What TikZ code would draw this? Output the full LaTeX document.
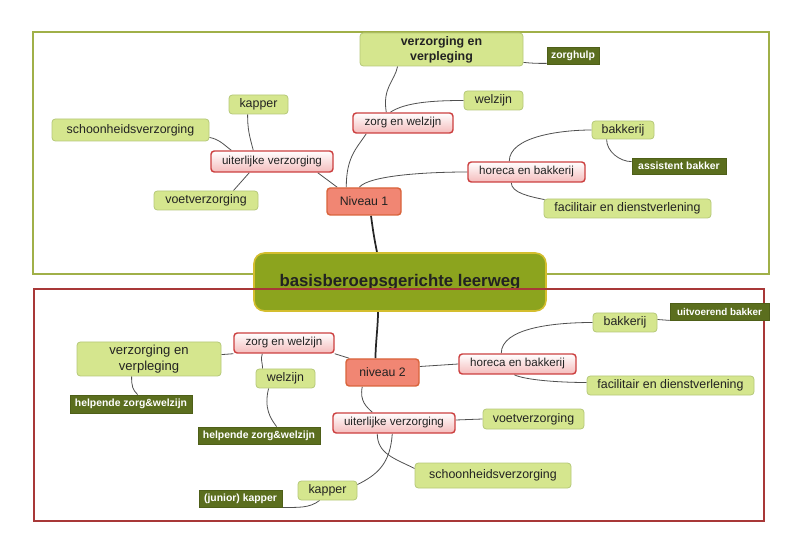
\documentclass[tikz,border=0pt]{standalone}
\usepackage{fontspec}
\setmainfont{Liberation Sans}
\usetikzlibrary{calc}
\pgfdeclarelayer{background}
\pgfsetlayers{background,main}
\definecolor{txt}{HTML}{222222}
\definecolor{lgfill}{HTML}{D5E68E}
\definecolor{lgdraw}{HTML}{B6C97A}
\definecolor{dgfill}{HTML}{5B6E1E}
\definecolor{dgdraw}{HTML}{4E5F18}
\definecolor{pkfill}{HTML}{F5BCBC}
\definecolor{pkdraw}{HTML}{CC4040}
\definecolor{nvfill}{HTML}{F18673}
\definecolor{nvdraw}{HTML}{D9643C}
\definecolor{cfill}{HTML}{8CA41E}
\definecolor{cdraw}{HTML}{D4BE2E}
\definecolor{gframe}{HTML}{A0B048}
\definecolor{rframe}{HTML}{A83838}
\definecolor{cncol}{HTML}{505050}
\begin{document}
\begin{tikzpicture}[x=0.75pt,y=-0.75pt,
 box/.style={rounded corners=2.5pt, inner sep=0pt, align=center, text=txt},
 bw/.style={minimum width=#1*0.75pt},
 bh/.style={minimum height=#1*0.75pt},
 lg/.style={box, fill=lgfill, draw=lgdraw, line width=0.6pt, font=\fontsize{9.3}{10.8}\selectfont},
 dg/.style={inner sep=0pt, fill=dgfill, draw=dgdraw, line width=0.6pt, text=white, font=\bfseries\fontsize{7.8}{9}\selectfont},
 pk/.style={box, top color=white, bottom color=pkfill, draw=pkdraw, line width=1.1pt, font=\fontsize{8.7}{9.5}\selectfont},
 nv/.style={box, fill=nvfill, draw=nvdraw, line width=1.1pt, font=\fontsize{9.2}{10}\selectfont},
 conn/.style={draw=cncol, line width=0.6pt},
 mainlink/.style={draw=black!85, line width=1.3pt},
]
\useasboundingbox (0,0) rectangle (800,552);
\begin{pgfonlayer}{background}
\fill[white] (0,0) rectangle (800,552);
\draw[gframe, line width=1.2pt] (33,32) rectangle (769,274);
\end{pgfonlayer}

% center
\node[box, rounded corners=8pt, fill=cfill, draw=cdraw, line width=1.2pt, bw=292, bh=58, font=\bfseries\fontsize{12.6}{14}\selectfont] (center) at (400,282) {basisberoepsgerichte leerweg};
\draw[rframe, line width=1.2pt] (34,289) rectangle (764,521);

% upper
\node[nv, bw=74, bh=27] (niv1) at (364,201.5) {Niveau 1};
\node[pk, bw=100, bh=20] (zw1) at (403,123) {zorg en welzijn};
\node[pk, bw=122, bh=21] (uv1) at (272,161.5) {uiterlijke verzorging};
\node[pk, bw=117, bh=20] (hb1) at (526.5,172) {horeca en bakkerij};
\node[lg, bw=163, bh=33, font=\bfseries\fontsize{9.3}{11}\selectfont] (vev1) at (441.5,49.5) {verzorging en\\verpleging};
\node[lg, bw=59, bh=19] (wz1) at (493.5,100.5) {welzijn};
\node[lg, bw=59, bh=19] (kap1) at (258.5,104.5) {kapper};
\node[lg, bw=157, bh=22] (sch1) at (130.5,130) {schoonheidsverzorging};
\node[lg, bw=104, bh=19] (voet1) at (206,200.5) {voetverzorging};
\node[lg, bw=62, bh=18] (bak1) at (623,130) {bakkerij};
\node[lg, bw=167, bh=19] (fac1) at (627.5,208.5) {facilitair en dienstverlening};
\node[dg, bw=52, bh=17] (zh) at (573,55.5) {zorghulp};
\node[dg, bw=94, bh=16] (ab) at (679,166) {assistent bakker};

% lower
\node[nv, bw=73, bh=27] (niv2) at (382.5,372.5) {niveau 2};
\node[pk, bw=100, bh=20] (zw2) at (284,343) {zorg en welzijn};
\node[pk, bw=117, bh=20] (hb2) at (517.5,364) {horeca en bakkerij};
\node[pk, bw=122, bh=20] (uv2) at (394,423) {uiterlijke verzorging};
\node[lg, bw=144, bh=34, font=\fontsize{9.8}{11.8}\selectfont] (vev2) at (149,359) {verzorging en\\verpleging};
\node[lg, bw=59, bh=19] (wz2) at (285.5,378.5) {welzijn};
\node[lg, bw=64, bh=19] (bak2) at (625,322.5) {bakkerij};
\node[lg, bw=167, bh=19] (fac2) at (670.5,385.5) {facilitair en dienstverlening};
\node[lg, bw=101, bh=20] (voet2) at (533.5,419) {voetverzorging};
\node[lg, bw=156, bh=25] (sch2) at (493,475.5) {schoonheidsverzorging};
\node[lg, bw=59, bh=19] (kap2) at (327.5,490.5) {kapper};
\node[dg, bw=99, bh=17, font=\bfseries\fontsize{7.4}{9}\selectfont] (ub) at (719.5,311.5) {uitvoerend bakker};
\node[dg, bw=122, bh=18] (hz1) at (131,404) {helpende zorg\&welzijn};
\node[dg, bw=122, bh=17] (hz2) at (259,435.5) {helpende zorg\&welzijn};
\node[dg, bw=83, bh=17] (jk) at (240.5,498.5) {(junior) kapper};

\begin{pgfonlayer}{background}
% main links
\draw[mainlink] ($(niv1.south)+(7,0)$) .. controls +(2,15) and +(-3,-15) .. ($(center.north)+(-23,0)$);
\draw[mainlink] ($(center.south)+(-22,0)$) .. controls +(0,15) and +(0,-15) .. ($(niv2.north)+(-7,0)$);
% upper links
\draw[conn] ($(niv1.north west)+(20,0)$) .. controls +(0,-30) and +(-10,15) .. ($(zw1.south west)+(14,0)$);
\draw[conn] ($(zw1.north west)+(34,0)$) .. controls +(-4,-25) and +(-3,15) .. ($(vev1.south west)+(38,0)$);
\draw[conn] ($(zw1.north west)+(38,0)$) .. controls +(15,-10) and +(-30,0) .. (wz1.west);
\draw[conn] ($(vev1.south east)+(0,-4)$) .. controls +(10,1) and +(-10,0) .. ($(zh.south west)+(0,-1)$);
\draw[conn] ($(niv1.north west)+(11,0)$) -- ($(uv1.south east)+(-16,0)$);
\draw[conn] ($(uv1.north west)+(43,0)$) .. controls +(-4,-15) and +(0,15) .. ($(kap1.south west)+(19,0)$);
\draw[conn] ($(sch1.south east)+(0,-4)$) .. controls +(10,2) and +(-8,-6) .. ($(uv1.north west)+(21,0)$);
\draw[conn] ($(uv1.south west)+(39,0)$) -- ($(voet1.north east)+(-25,0)$);
\draw[conn] ($(niv1.north west)+(33,0)$) .. controls +(10,-12) and +(-40,0) .. (hb1.west);
\draw[conn] ($(hb1.north west)+(42,0)$) .. controls +(0,-25) and +(-30,0) .. (bak1.west);
\draw[conn] ($(bak1.south west)+(15,0)$) .. controls +(0,12) and +(-12,0) .. ($(ab.north west)+(0,4)$);
\draw[conn] ($(hb1.south west)+(44,0)$) .. controls +(0,10) and +(-15,-3) .. ($(fac1.north west)+(1,1)$);
% lower links
\draw[conn] ($(niv2.north west)+(4,0)$) -- (zw2.south east);
\draw[conn] ($(vev2.north east)+(0,13)$) -- (zw2.south west);
\draw[conn] ($(zw2.south west)+(29,0)$) .. controls +(-2,6) and +(0,-6) .. ($(wz2.north west)+(7,0)$);
\draw[conn] ($(vev2.south west)+(55,0)$) .. controls +(0,10) and +(-5,-5) .. ($(hz1.north west)+(68,0)$);
\draw[conn] ($(wz2.south west)+(13,0)$) .. controls +(-5,20) and +(-6,-8) .. ($(hz2.north west)+(79,0)$);
\draw[conn] ($(niv2.east)+(0,-6)$) -- (hb2.west);
\draw[conn] ($(hb2.north west)+(43,0)$) .. controls +(0,-25) and +(-40,0) .. (bak2.west);
\draw[conn] ($(bak2.east)+(0,-3)$) -- (ub.south west);
\draw[conn] ($(hb2.south west)+(56,0)$) .. controls +(10,5) and +(-30,0) .. ($(fac2.west)+(0,-3)$);
\draw[conn] ($(niv2.south west)+(17,0)$) .. controls +(-3,15) and +(-5,-5) .. ($(uv2.north west)+(40,0)$);
\draw[conn] ($(uv2.east)+(0,-3)$) -- (voet2.west);
\draw[conn] ($(uv2.south west)+(60,0)$) .. controls +(-2,30) and +(20,-10) .. ($(kap2.north east)+(0,4)$);
\draw[conn] ($(uv2.south west)+(45,0)$) .. controls +(0,20) and +(-20,-10) .. ($(sch2.west)+(0,-7)$);
\draw[conn] ($(kap2.south west)+(22,0)$) .. controls +(-10,8) and +(15,0) .. (jk.south east);
\end{pgfonlayer}
\end{tikzpicture}
\end{document}
